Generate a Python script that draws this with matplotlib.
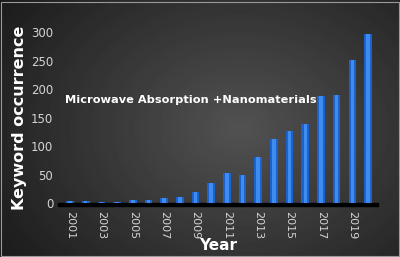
import numpy as np
import matplotlib
matplotlib.use("Agg")
import matplotlib.pyplot as plt

years = list(range(2001, 2021))
counts = [3, 3, 2, 2, 5, 5, 9, 11, 20, 35, 53, 50, 81, 113, 127, 139, 187, 189, 251, 297]
tick_years = list(range(2001, 2020, 2))
y_ticks = [0, 50, 100, 150, 200, 250, 300]

fig = plt.figure(figsize=(4.0, 2.57), dpi=100)

# dark radial gradient background
bg = fig.add_axes([0, 0, 1, 1], zorder=-1)
gx, gy = np.meshgrid(np.linspace(0, 1, 400), np.linspace(0, 1, 257))
r = np.sqrt(((gx - 0.6) / 0.75) ** 2 + ((gy - 0.5) / 0.9) ** 2)
shade = np.clip(0.32 - 0.22 * r, 0.08, 0.4)
bg.imshow(shade, cmap="gray", vmin=0, vmax=1, aspect="auto", extent=[0, 1, 0, 1])
bg.set_xlim(0, 1)
bg.set_ylim(0, 1)
bg.axis("off")
bg.add_patch(plt.Rectangle((0.002, 0.004), 0.995, 0.99, fill=False, ec="#9a9a9a", lw=0.8))

ax = fig.add_axes([0.145, 0.21, 0.80, 0.665])
ax.patch.set_alpha(0)
for s in ax.spines.values():
    s.set_visible(False)

# floor under the bars
ax.axhspan(-5, 0, xmin=0.0, xmax=1.0, color="black", zorder=1, clip_on=False)
ax.bar(years, counts, width=0.48, color="#1d62cc", zorder=2)
ax.bar(years, counts, width=0.22, color="#3e8cf0", zorder=3)

ax.set_xlim(2000.23, 2020.64)
ax.set_ylim(0, 300)
ax.set_yticks(y_ticks)
ax.set_xticks(tick_years)
ax.set_xticklabels([str(y) for y in tick_years], rotation=270)
ax.tick_params(axis="both", length=0, colors="#d4d4d4", labelsize=8.5)
ax.tick_params(axis="x", labelsize=8, pad=6)

ax.set_ylabel("Keyword occurrence", color="white", fontsize=11.5, fontweight="bold", labelpad=3)
ax.set_xlabel("Year", color="white", fontsize=11, fontweight="bold", labelpad=-1)

fig.text(0.163, 0.61, "Microwave Absorption +Nanomaterials", color="white",
         fontsize=8.2, fontweight="bold", va="center")

fig.savefig("out.png", dpi=100)
